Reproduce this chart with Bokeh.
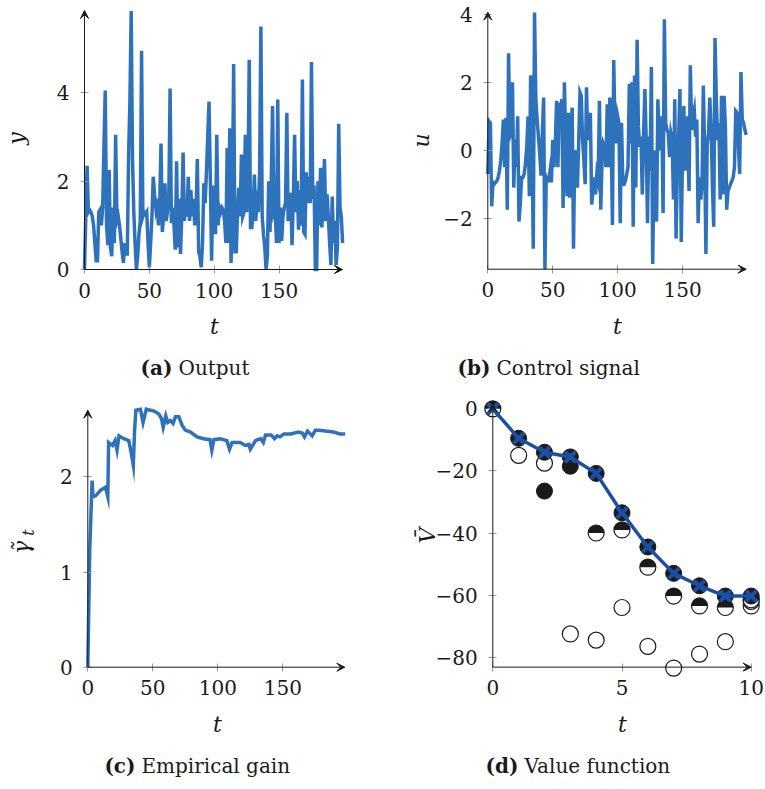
from math import pi
from bokeh.plotting import figure
from bokeh.layouts import row, column
from bokeh.models import Range1d, FixedTicker, Arrow, VeeHead, Label
from bokeh.embed import file_html
from bokeh.resources import INLINE

# ---------------- data ----------------
t_steps = list(range(200))

y_output = [
    0.0, 1.2, 2.35, 1.3, 1.35, 1.3, 1.2, 1.0, 0.6, 0.2,
    0.2, 1.3, 1.35, 1.0, 1.4, 2.8, 4.05, 1.0, 0.55, 2.25,
    0.5, 0.3, 1.4, 0.6, 3.05, 1.1, 1.2, 1.0, 0.7, 0.4,
    0.15, 0.6, 0.35, 0.35, 2.6, 3.8, 5.85, 2.5, 1.3, 0.6,
    0.0, 0.3, 0.8, 1.1, 4.95, 1.2, 1.3, 1.25, 1.3, 0.6,
    0.05, 0.6, 1.2, 2.1, 1.7, 1.4, 1.6, 1.0, 1.5, 2.85,
    0.85, 1.2, 1.95, 1.1, 1.3, 1.6, 4.1, 1.05, 1.4, 1.0,
    0.45, 2.45, 0.5, 1.6, 0.35, 1.2, 2.65, 1.1, 1.5, 1.2,
    2.1, 1.1, 1.8, 1.2, 1.6, 1.0, 1.3, 2.5, 0.4, 0.3,
    0.05, 0.6, 1.95, 1.5, 2.2, 3.0, 3.8, 2.1, 0.2, 1.9,
    1.4, 0.8, 3.05, 1.0, 1.4, 1.3, 1.4, 1.35, 1.1, 0.6,
    2.75, 0.6, 3.2, 0.15, 1.5, 4.65, 0.4, 0.4, 1.3, 1.85,
    1.2, 2.6, 1.2, 1.3, 3.05, 1.3, 1.9, 4.75, 0.95, 0.95,
    1.3, 2.15, 1.1, 1.5, 1.3, 2.2, 5.5, 1.2, 0.8, 0.5,
    0.0, 0.3, 2.0, 0.85, 2.0, 3.7, 1.3, 1.4, 0.6, 3.85,
    0.6, 1.4, 0.65, 1.2, 1.4, 1.5, 3.55, 1.1, 1.7, 1.7,
    0.55, 1.6, 3.05, 1.3, 2.0, 0.9, 1.8, 1.0, 4.3, 0.85,
    0.8, 2.2, 1.5, 2.1, 1.5, 4.7, 1.6, 1.9, 0.0, 0.0,
    2.0, 1.0, 2.3, 0.95, 1.6, 2.5, 1.1, 1.7, 1.2, 0.6,
    0.1, 1.65, 0.6, 1.1, 0.1, 0.5, 3.3, 1.4, 1.2, 0.6,
]

u_control = [
    -0.7, 0.85, 0.8, -1.65, -0.95, -1.0, -0.95, -0.9, -0.8, -0.6,
    -0.3, 0.2, 0.9, -0.5, 0.95, -1.75, 2.85, 0.4, 0.5, 2.0,
    -1.1, 0.3, -0.5, 1.0, -2.1, -1.6, -0.8, -0.8, -0.7, -0.4,
    0.1, 1.0, -1.35, 2.2, 0.5, -2.9, 4.05, 1.5, 0.9, 0.4,
    -0.1, -0.75, 0.5, 1.55, -3.5, -0.8, -0.9, -0.9, -0.6, -0.95,
    0.3, -0.5, 0.2, 1.45, -0.5, 1.4, 1.0, 1.5, -1.7, 2.0,
    0.3, -1.35, 1.1, -1.4, 0.6, 1.25, -2.9, 0.0, -0.8, -1.1,
    0.2, 1.7, 1.6, 0.3, -0.3, -1.0, 1.85, 0.3, 0.6, 1.1,
    -1.6, -1.2, -0.8, -1.3, -0.7, -0.9, 1.45, -1.75, -0.3, 0.2,
    0.1, -0.5, 1.35, -0.5, 1.55, 0.5, -2.2, 2.65, 0.5, 0.2,
    1.0, 0.8, -2.15, 0.8, -1.0, -1.0, -0.9, -0.7, -0.5, 1.95,
    0.2, 2.0, -2.25, 2.2, -1.1, 3.25, 0.7, 0.1, 0.4, -1.3,
    0.5, 1.8, 0.3, -2.15, 0.4, -0.6, 2.45, -3.35, -0.6, 0.0,
    -2.1, 1.5, 0.3, 0.0, 1.0, -1.85, 3.85, 0.8, 0.6, 0.5,
    -0.2, 0.5, 0.3, -1.45, 1.5, -2.6, -0.6, 0.4, 1.8, -2.7,
    0.0, 1.3, -0.6, 1.0, 0.3, -1.2, 2.5, 0.6, 1.0, 1.2,
    0.4, 0.9, -2.15, -0.8, -1.45, -1.0, 1.9, 0.0, -3.05, 0.2,
    0.5, 1.55, 0.6, -1.0, -2.25, 3.3, 1.5, 0.3, 0.8, -1.45,
    1.6, -1.3, 1.6, 0.7, -1.75, -1.2, -1.1, -1.0, -0.9, -0.8,
    -0.5, 1.15, 1.1, 0.2, -0.7, 2.3, 0.9, 0.8, 0.6, 0.45,
]

gain_t = [0, 1.5, 3.3, 4, 6, 10, 13.6, 15.4, 16, 19, 21, 22.5, 24, 27.7, 31.5,
          33.3, 35, 36, 37, 40.5, 42.5, 45, 51, 54.6, 56.7, 58, 60, 61.5, 63.6,
          65.6, 67.4, 70, 72.6, 75, 79, 84, 89, 94, 95.4, 97, 102, 107, 109,
          111, 117.4, 121, 124, 125, 129, 133, 135, 136.7, 141, 143.6, 145.6,
          147.7, 150.8, 156, 162, 165, 166.7, 169, 172.6, 175, 177.7, 182.8,
          189, 194, 198]
gain_v = [0.0, 1.23, 1.96, 1.79, 1.8, 1.86, 1.89, 1.79, 2.36, 2.33, 2.38, 2.28,
          2.43, 2.4, 2.38, 2.26, 2.12, 2.49, 2.7, 2.71, 2.57, 2.71, 2.69, 2.66,
          2.61, 2.52, 2.64, 2.57, 2.59, 2.56, 2.63, 2.63, 2.54, 2.49, 2.47,
          2.42, 2.4, 2.39, 2.28, 2.39, 2.4, 2.38, 2.29, 2.36, 2.36, 2.33, 2.34,
          2.29, 2.38, 2.4, 2.36, 2.44, 2.44, 2.4, 2.43, 2.42, 2.45, 2.45, 2.47,
          2.46, 2.42, 2.48, 2.43, 2.49, 2.49, 2.48, 2.47, 2.45, 2.45]

v_t = [0, 1, 2, 3, 4, 5, 6, 7, 8, 9, 10]
v_line = [0, -9.5, -14, -15.5, -20.8, -33.5, -44.5, -53, -57, -60.3, -60.3]
filled_t = [1, 2, 3, 4, 5, 6, 7, 8, 9, 10, 2, 3]
filled_v = [-9.5, -14, -15.5, -20.8, -33.5, -44.5, -53, -57, -60.3, -60.3, -26.5, -18.5]
half_t = [0, 4, 5, 6, 7, 8, 9, 10]
half_v = [0, -40, -39, -51, -60.3, -63.5, -64, -61.5]
open_t = [1, 2, 3, 4, 5, 6, 7, 8, 9, 10, 10]
open_v = [-15, -17.5, -72.5, -74.5, -64, -76.5, -83.5, -79, -75, -63.5, -62]

ticks_t = [0, 50, 100, 150]
ticks_y = [0, 2, 4]
ticks_u = [-2, 0, 2, 4]
ticks_gain = [0, 1, 2]
ticks_vt = [0, 5, 10]
ticks_v = [0, -20, -40, -60, -80]

# ---------------- style ----------------
SERIF = "DejaVu Serif"
BLUE = "#2F72BC"
DBLUE = "#1A4FA3"
INK = "#1a1a1a"
TICK_FS = "20px"
LAB_FS = "22px"
CAP_FS = "20px"


def make_panel(width, height, ox, oy, xmap, ymap, xaxis_span, yaxis_span,
               xticks, yticks):
    """xmap/ymap: (data value, page pixel, pixels per unit)."""
    xa, pxa, kx = xmap
    ya, pya, ky = ymap
    xr = (xa - (pxa - ox) / kx, xa + (ox + width - pxa) / kx)
    yr = (ya - (oy + height - pya) / ky, ya + (pya - oy) / ky)
    p = figure(width=width, height=height,
               x_range=Range1d(*xr), y_range=Range1d(*yr),
               output_backend="svg", toolbar_location=None, title=None,
               min_border_left=0, min_border_right=0,
               min_border_top=0, min_border_bottom=0)
    p.xgrid.visible = False
    p.ygrid.visible = False
    p.outline_line_color = None
    p.background_fill_color = "white"
    p.border_fill_color = "white"
    x0, x1 = xaxis_span
    y0, y1 = yaxis_span
    for ax in (p.xaxis[0], p.yaxis[0]):
        ax.axis_line_color = None
        ax.major_tick_line_color = "#9a9a9a"
        ax.major_tick_line_width = 1
        ax.major_tick_in = 4
        ax.major_tick_out = 4
        ax.minor_tick_line_color = None
        ax.major_label_text_font = SERIF
        ax.major_label_text_font_size = TICK_FS
        ax.major_label_text_color = INK
    p.xaxis[0].fixed_location = y0
    p.yaxis[0].fixed_location = x0
    p.xaxis[0].bounds = (x0, x1)
    p.yaxis[0].bounds = (y0, y1)
    p.xaxis[0].ticker = FixedTicker(ticks=xticks)
    p.yaxis[0].ticker = FixedTicker(ticks=yticks)
    p.xaxis[0].major_label_standoff = 9
    p.yaxis[0].major_label_standoff = 11
    over = {v: ("\u2212" + str(abs(v))) for v in yticks if v < 0}
    if over:
        p.yaxis[0].major_label_overrides = over

    def dx(px):
        return xa + (px - pxa) / kx

    def dy(py):
        return ya + (pya - py) / ky

    head = dict(size=8, fill_color=INK, line_color=INK, line_width=1)
    p.add_layout(Arrow(end=VeeHead(**head), x_start=x0, y_start=y0,
                       x_end=x1, y_end=y0, line_color=INK, line_width=1))
    p.add_layout(Arrow(end=VeeHead(**head), x_start=x0, y_start=y0,
                       x_end=x0, y_end=y1, line_color=INK, line_width=1))
    return p, dx, dy


def add_text(p, x, y, text, size, style="normal", angle=0, align="center"):
    p.add_layout(Label(x=x, y=y, text=text, text_font=SERIF, text_font_size=size,
                       text_font_style=style, angle=angle, text_align=align,
                       text_baseline="middle", text_color=INK))


def caption(p, dx, dy, x_end_tag, tag, title, ypx):
    add_text(p, dx(x_end_tag), dy(ypx), tag, CAP_FS, "bold", align="right")
    add_text(p, dx(x_end_tag + 6), dy(ypx), title, CAP_FS, "normal", align="left")


# (a) Output
p1, dx1, dy1 = make_panel(382, 394, 0, 0, (0, 84, 1.297), (0, 269, 44.17),
                          (0, 198.9), (0, 5.864), ticks_t, ticks_y)
p1.line(t_steps, y_output, line_color=BLUE, line_width=3.5, line_join="miter")
add_text(p1, dx1(16), dy1(138), "y", LAB_FS, "italic", angle=pi / 2)
add_text(p1, dx1(214), dy1(326), "t", LAB_FS, "italic")
caption(p1, dx1, dy1, 172, "(a)", "Output", 367)

# (b) Control signal
p2, dx2, dy2 = make_panel(383, 394, 382, 0, (0, 487.3, 1.2983), (0, 149.7, 34.0),
                          (0, 199.0), (-3.5, 4.06), ticks_t, ticks_u)
p2.line(t_steps, u_control, line_color=BLUE, line_width=3.5, line_join="miter")
add_text(p2, dx2(421), dy2(140), "u", LAB_FS, "italic", angle=pi / 2)
add_text(p2, dx2(617), dy2(326), "t", LAB_FS, "italic")
caption(p2, dx2, dy2, 490, "(b)", "Control signal", 367)

# (c) Empirical gain
p3, dx3, dy3 = make_panel(382, 395, 0, 394, (0, 87.3, 1.3), (0, 666.7, 95.2),
                          (0, 197.7), (0, 2.70), ticks_t, ticks_gain)
p3.line(gain_t, gain_v, line_color=BLUE, line_width=3.5, line_join="miter")
add_text(p3, dx3(21), dy3(547), "\u03b3\u0303", LAB_FS, "italic", angle=pi / 2)
add_text(p3, dx3(28), dy3(532), "t", "16px", "italic", angle=pi / 2)
add_text(p3, dx3(217), dy3(724), "t", LAB_FS, "italic")
caption(p3, dx3, dy3, 135, "(c)", "Empirical gain", 765)

# (d) Value function
p4, dx4, dy4 = make_panel(383, 395, 382, 394, (0, 492.3, 25.84), (0, 408.3, 3.105),
                          (0, 10.0), (-83.2, 1.6), ticks_vt, ticks_v)
p4.scatter(open_t, open_v, marker="circle", size=16, fill_color="white",
           line_color=INK, line_width=1.2)
p4.scatter(half_t, half_v, marker="circle", size=16, fill_color="white",
           line_color=INK, line_width=1.2)
p4.wedge(half_t, half_v, radius=8, radius_units="screen", start_angle=0,
         end_angle=pi, fill_color=INK, line_color=None)
p4.scatter(filled_t, filled_v, marker="circle", size=16, fill_color=INK,
           line_color=INK)
p4.line(v_t, v_line, line_color=DBLUE, line_width=3.5)
p4.scatter(v_t, v_line, marker="x", size=15, line_color=DBLUE, line_width=4)
add_text(p4, dx4(427), dy4(535), "V\u0304", LAB_FS, "italic", angle=pi / 2)
add_text(p4, dx4(622), dy4(724), "t", LAB_FS, "italic")
caption(p4, dx4, dy4, 518, "(d)", "Value function", 765)

layout = column(row(p1, p2), row(p3, p4))
open("out.html", "w").write(file_html(layout, INLINE))
